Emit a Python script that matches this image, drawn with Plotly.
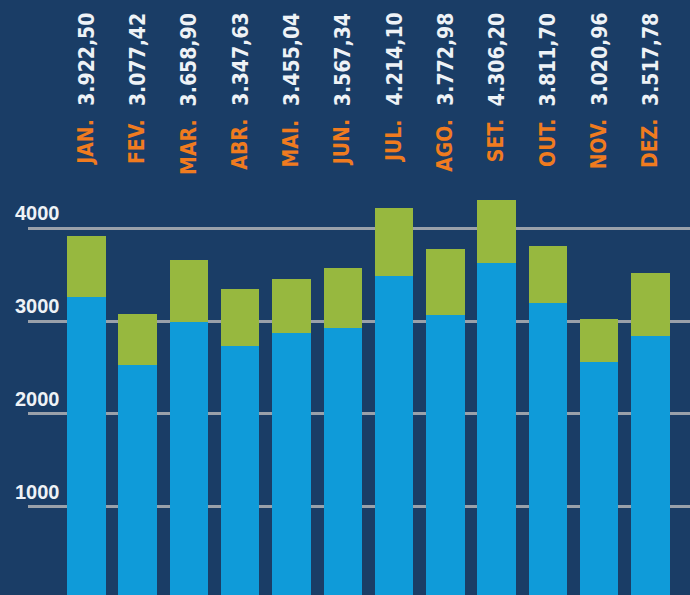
import plotly.graph_objects as go

months = ["JAN.", "FEV.", "MAR.", "ABR.", "MAI.", "JUN.", "JUL.", "AGO.", "SET.", "OUT.", "NOV.", "DEZ."]
total_labels = ["3.922,50", "3.077,42", "3.658,90", "3.347,63", "3.455,04", "3.567,34",
                "4.214,10", "3.772,98", "4.306,20", "3.811,70", "3.020,96", "3.517,78"]
totals = [3922.50, 3077.42, 3658.90, 3347.63, 3455.04, 3567.34,
          4214.10, 3772.98, 4306.20, 3811.70, 3020.96, 3517.78]
blue_vals = [3256, 2527, 2994, 2735, 2869, 2925, 3486, 3066, 3630, 3192, 2563, 2843]
green_vals = [round(t - b, 2) for t, b in zip(totals, blue_vals)]
y_ticks = [1000, 2000, 3000, 4000]

BG = "#1a3d66"
BLUE = "#0f9bd9"
GREEN = "#97b83f"
ORANGE = "#f07b1f"
WHITE = "#eef2f6"
GRID = "#9aa1aa"

W, H = 690, 595

fig = go.Figure()
fig.add_trace(go.Bar(x=months, y=blue_vals, marker=dict(color=BLUE, line=dict(width=0)), hoverinfo="skip"))
fig.add_trace(go.Bar(x=months, y=green_vals, marker=dict(color=GREEN, line=dict(width=0)), hoverinfo="skip"))

label_font = "DejaVu Sans Condensed, Liberation Sans Narrow, sans-serif"
anns = []
for m, v in zip(months, total_labels):
    anns.append(dict(x=m, xref="x", y=1 - 118 / H, yref="paper", text=m, textangle=-90,
                     showarrow=False, xanchor="center", yanchor="top", borderpad=0,
                     font=dict(family=label_font, size=21, color=ORANGE, weight="bold")))
    anns.append(dict(x=m, xref="x", y=1 - 107 / H, yref="paper", text=v, textangle=-90,
                     showarrow=False, xanchor="center", yanchor="bottom", borderpad=0,
                     font=dict(family=label_font, size=21, color=WHITE, weight="bold")))
for t in y_ticks:
    anns.append(dict(x=(37 - 28) / (W - 28), xref="paper", y=t, yref="y", yshift=15,
                     text=str(t), showarrow=False, xanchor="center", yanchor="middle",
                     font=dict(family="Liberation Sans, Arial, sans-serif", size=20,
                               color=WHITE, weight="bold")))

fig.update_layout(
    width=W, height=H,
    margin=dict(l=28, r=0, t=0, b=0),
    paper_bgcolor=BG, plot_bgcolor=BG,
    barmode="stack", bargap=0.25,
    showlegend=False,
    annotations=anns,
    xaxis=dict(range=[-1.137, 11.77], showticklabels=False, showgrid=False,
               zeroline=False, showline=False, ticks=""),
    yaxis=dict(range=[49, 6460], tickvals=y_ticks, showticklabels=False,
               showgrid=True, gridcolor=GRID, gridwidth=2.5, zeroline=False,
               showline=False, ticks=""),
)

fig.write_html("out.html", config={"displayModeBar": False},
               post_script="document.body.style.margin='0';document.body.style.background='%s';" % BG)
